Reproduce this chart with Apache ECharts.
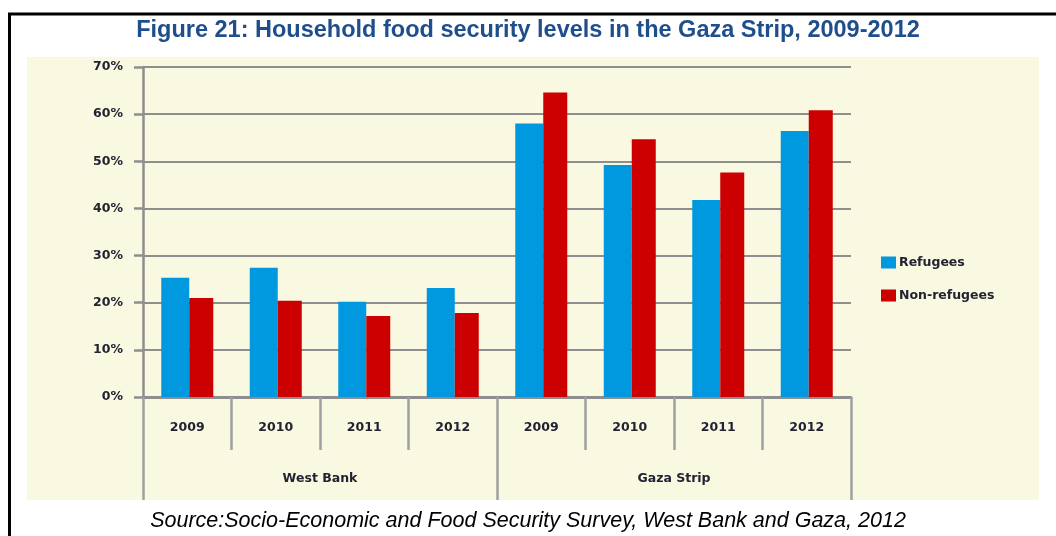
<!DOCTYPE html>
<html>
<head>
<meta charset="utf-8">
<script src="https://cdn.jsdelivr.net/npm/echarts@6/dist/echarts.min.js"></script>
<style>
  html, body { margin: 0; padding: 0; background: #ffffff; }
  #chart { width: 1056px; height: 536px; }
</style>
</head>
<body>
<div id="chart"></div>
<script>
// Survey years, repeated for each region
const years = ['2009', '2010', '2011', '2012', '2009', '2010', '2011', '2012'];
const regions = ['West Bank', 'Gaza Strip'];

// Food-secure households, percent
const refugees = [25.3, 27.4, 20.2, 23.1, 58.0, 49.2, 41.8, 56.4];
const nonRefugees = [21.0, 20.4, 17.2, 17.8, 64.6, 54.7, 47.6, 60.8];

const yTicks = { min: 0, max: 70, interval: 10 };

const titleText = 'Figure 21: Household food security levels in the Gaza Strip, 2009-2012';
const sourceText = 'Source:Socio-Economic and Food Security Survey, West Bank and Gaza, 2012';

const labelFont = { fontFamily: 'DejaVu Sans', fontWeight: 'bold', fontSize: 12.5, color: '#222233' };
const gridGray = '#8e8e8e';

const chart = echarts.init(document.getElementById('chart'), null, { renderer: 'canvas' });

chart.setOption({
  animation: false,
  backgroundColor: '#ffffff',
  title: {
    text: titleText,
    left: 'center',
    top: 14,
    textStyle: { fontFamily: 'Liberation Sans', fontWeight: 'bold', fontSize: 23.5, color: '#1f4e8c' }
  },
  graphic: [
    { type: 'rect', z: -10, shape: { x: 27, y: 57, width: 1012, height: 443 }, style: { fill: '#f9f8e0' } },
    { type: 'line', z: 10, shape: { x1: 8, y1: 14, x2: 1060, y2: 14 }, style: { stroke: '#000', lineWidth: 3 } },
    { type: 'line', z: 10, shape: { x1: 9.5, y1: 13, x2: 9.5, y2: 540 }, style: { stroke: '#000', lineWidth: 3 } },
    {
      type: 'text', z: 10, left: 'center', top: 510,
      style: { text: sourceText, fontFamily: 'Liberation Sans', fontStyle: 'italic', fontSize: 21.5, fill: '#000' }
    }
  ],
  legend: {
    orient: 'vertical',
    left: 881,
    top: 256,
    padding: 0,
    itemWidth: 15,
    itemHeight: 12,
    itemGap: 20,
    icon: 'rect',
    textStyle: Object.assign({ padding: [0, 0, 0, -2] }, labelFont),
    data: ['Refugees', 'Non-refugees']
  },
  grid: { left: 143, right: 205, top: 67, bottom: 139, containLabel: false },
  xAxis: [
    {
      type: 'category',
      data: years,
      position: 'bottom',
      axisLine: { lineStyle: { color: gridGray, width: 3 } },
      axisTick: { show: true, interval: 0, length: 53, lineStyle: { color: '#a0a0a0', width: 2.5 } },
      axisLabel: Object.assign({ margin: 24, interval: 0 }, labelFont)
    },
    {
      type: 'category',
      data: regions,
      position: 'bottom',
      axisLine: { show: false },
      axisTick: { show: true, interval: 0, length: 103, lineStyle: { color: '#a0a0a0', width: 2.5 } },
      axisLabel: Object.assign({ margin: 75, interval: 0 }, labelFont)
    }
  ],
  yAxis: {
    type: 'value',
    min: yTicks.min,
    max: yTicks.max,
    interval: yTicks.interval,
    axisLine: { show: true, lineStyle: { color: gridGray, width: 2.5 } },
    axisTick: { show: true, length: 9, lineStyle: { color: gridGray, width: 2.5 } },
    splitLine: { lineStyle: { color: gridGray, width: 2 } },
    axisLabel: Object.assign({ margin: 20, formatter: '{value}%' }, labelFont)
  },
  series: [
    {
      name: 'Refugees',
      type: 'bar',
      xAxisIndex: 0,
      data: refugees,
      barWidth: 28,
      barGap: '0%',
      itemStyle: { color: '#0099e0' }
    },
    {
      name: 'Non-refugees',
      type: 'bar',
      xAxisIndex: 0,
      data: nonRefugees,
      barWidth: 24,
      barGap: '0%',
      itemStyle: { color: '#cc0000' }
    }
  ]
});
</script>
</body>
</html>
